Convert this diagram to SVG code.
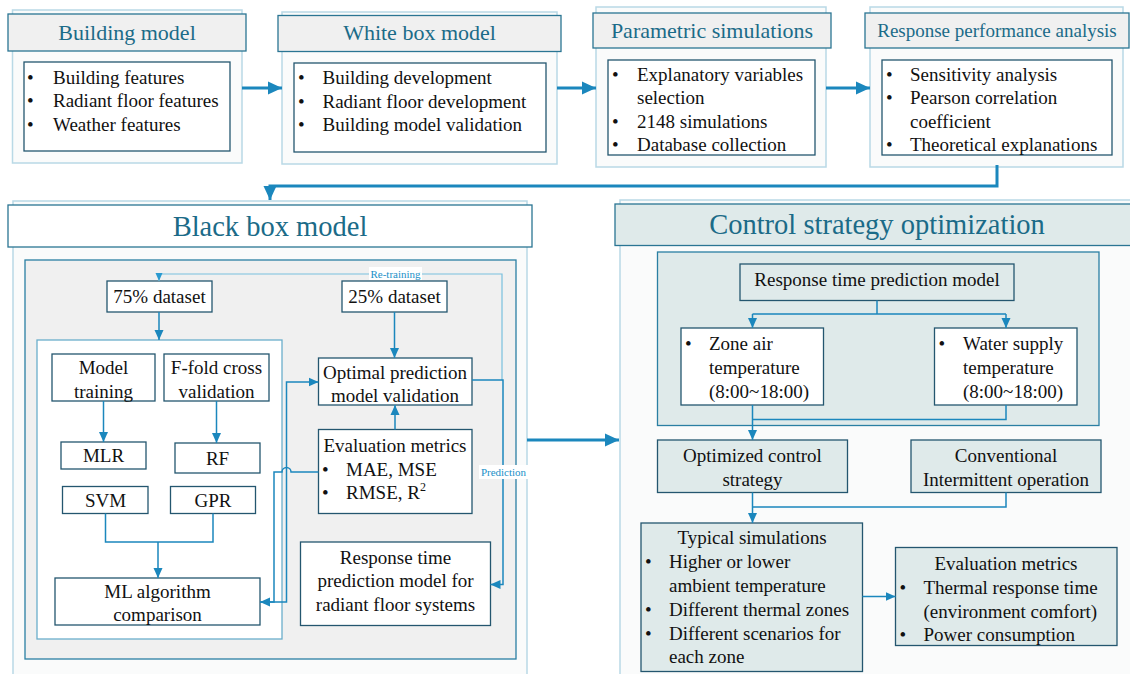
<svg xmlns="http://www.w3.org/2000/svg" width="1130" height="674" viewBox="0 0 1130 674">
<style>
text{font-family:"Liberation Serif","Times New Roman",serif;fill:#111}
.t{font-size:19px}
.c{text-anchor:middle}
.h{font-size:22px;fill:#1b6b88;text-anchor:middle}
.hb{font-size:28.5px;fill:#1b6b88;text-anchor:middle}
.lab{font-size:11px;fill:#1a90c8;text-anchor:middle}
.frame{fill:#fafbfb;stroke:#b9d9e6;stroke-width:1.5}
.hdr{fill:#f0f0f0;stroke:#2a7593;stroke-width:1.3}
.box{fill:#fff;stroke:#24566f;stroke-width:1.3}
.tbox{fill:#dfeaea;stroke:#24566f;stroke-width:1.3}
.ln{fill:none;stroke:#1b87bd;stroke-width:1.5}
.lt{fill:none;stroke:#79c0de;stroke-width:1.2}
.thick{fill:none;stroke:#1b87bd;stroke-width:3}
</style>
<defs>
<marker id="a" markerWidth="10" markerHeight="10" refX="10" refY="5" orient="auto" markerUnits="userSpaceOnUse"><path d="M0,0.5 L10,5 L0,9.5 z" fill="#1b87bd"/></marker>
<marker id="al" markerWidth="8" markerHeight="8" refX="8" refY="4" orient="auto" markerUnits="userSpaceOnUse"><path d="M0,0.5 L8,4 L0,7.5 z" fill="#2a9ad0"/></marker>
<marker id="at" markerWidth="14" markerHeight="14" refX="14" refY="7" orient="auto" markerUnits="userSpaceOnUse"><path d="M0,0.5 L14,7 L0,13.5 z" fill="#1b87bd"/></marker>
</defs>

<g id="building-model">
<rect class="frame" x="12.5" y="10" width="229.5" height="153"/>
<rect class="hdr" x="8" y="14" width="238" height="37"/>
<text class="h" x="127" y="39.5">Building model</text>
<rect class="box" x="24" y="62" width="206" height="89"/>
<text class="t" x="27" y="83.5">•</text><text class="t" x="53" y="83.5">Building features</text>
<text class="t" x="27" y="107">•</text><text class="t" x="53" y="107">Radiant floor features</text>
<text class="t" x="27" y="130.5">•</text><text class="t" x="53" y="130.5">Weather features</text>
</g>

<g id="white-box-model">
<rect class="frame" x="282" y="12" width="275" height="152"/>
<rect class="hdr" x="278" y="15.5" width="283" height="36"/>
<text class="h" x="419.5" y="40">White box model</text>
<rect class="box" x="294" y="63" width="252" height="89"/>
<text class="t" x="298" y="84">•</text><text class="t" x="322.5" y="84">Building development</text>
<text class="t" x="298" y="107.5">•</text><text class="t" x="322.5" y="107.5">Radiant floor development</text>
<text class="t" x="298" y="131">•</text><text class="t" x="322.5" y="131">Building model validation</text>
</g>

<g id="parametric-simulations">
<rect class="frame" x="596" y="7" width="230" height="160"/>
<rect class="hdr" x="593" y="13" width="238" height="35"/>
<text class="h" x="712" y="37.5">Parametric simulations</text>
<rect class="box" x="608" y="60" width="207" height="95"/>
<text class="t" x="612" y="80.5">•</text><text class="t" x="637" y="80.5">Explanatory variables</text>
<text class="t" x="637" y="104">selection</text>
<text class="t" x="612" y="127.5">•</text><text class="t" x="637" y="127.5">2148 simulations</text>
<text class="t" x="612" y="151">•</text><text class="t" x="637" y="151">Database collection</text>
</g>

<g id="response-performance-analysis">
<rect class="frame" x="870" y="7" width="253" height="160"/>
<rect class="hdr" x="865" y="13" width="264" height="35"/>
<text class="h" x="997" y="36.5" style="font-size:19px">Response performance analysis</text>
<rect class="box" x="882" y="60" width="230" height="95"/>
<text class="t" x="886" y="80.5">•</text><text class="t" x="910" y="80.5">Sensitivity analysis</text>
<text class="t" x="886" y="104">•</text><text class="t" x="910" y="104">Pearson correlation</text>
<text class="t" x="910" y="127.5">coefficient</text>
<text class="t" x="886" y="151">•</text><text class="t" x="910" y="151">Theoretical explanations</text>
</g>

<g id="black-box-model">
<rect class="frame" x="13" y="201" width="514" height="480"/>
<rect x="8" y="205" width="524" height="42" fill="#fff" stroke="#2a7593" stroke-width="1.3"/>
<text class="hb" x="270" y="236">Black box model</text>
<rect x="25" y="260" width="491" height="399" fill="#f0f0f0" stroke="#2a7fa3" stroke-width="1.3"/>
</g>

<g id="dataset-75">
<rect class="box" x="107" y="281" width="105" height="31"/>
<text class="t c" x="159.5" y="303">75% dataset</text>
</g>
<g id="dataset-25">
<rect class="box" x="342" y="281" width="105" height="31"/>
<text class="t c" x="394.5" y="303">25% dataset</text>
</g>
<g id="training-container">
<rect x="37" y="340" width="245" height="299" fill="#fff" stroke="#6aaecb" stroke-width="1.3"/>
</g>
<g id="model-training">
<rect class="box" x="52" y="354" width="103" height="47"/>
<text class="t c" x="103.5" y="374">Model</text>
<text class="t c" x="103.5" y="398">training</text>
</g>
<g id="f-fold">
<rect class="box" x="164" y="354" width="105" height="47"/>
<text class="t c" x="216.5" y="374">F-fold cross</text>
<text class="t c" x="216.5" y="398">validation</text>
</g>
<g id="mlr">
<rect class="box" x="61" y="442" width="85" height="27"/>
<text class="t c" x="103.5" y="462">MLR</text>
</g>
<g id="rf">
<rect class="box" x="175" y="443" width="85" height="30"/>
<text class="t c" x="217.5" y="464.5">RF</text>
</g>
<g id="svm">
<rect class="box" x="62.5" y="486.5" width="85.5" height="27"/>
<text class="t c" x="105.5" y="506.5">SVM</text>
</g>
<g id="gpr">
<rect class="box" x="170.5" y="486.5" width="85" height="27"/>
<text class="t c" x="213" y="506.5">GPR</text>
</g>
<g id="ml-comparison">
<rect class="box" x="55" y="578" width="205" height="47"/>
<text class="t c" x="157.5" y="597.5">ML algorithm</text>
<text class="t c" x="157.5" y="621">comparison</text>
</g>
<g id="optimal-validation">
<rect class="box" x="318.5" y="358" width="153.5" height="47"/>
<text class="t c" x="395" y="379">Optimal prediction</text>
<text class="t c" x="395" y="402">model validation</text>
</g>
<g id="evaluation-metrics-bb">
<rect class="box" x="318.5" y="429.5" width="153.5" height="84"/>
<text class="t c" x="395" y="451.5">Evaluation metrics</text>
<text class="t" x="322" y="475.5">•</text><text class="t" x="346" y="475.5">MAE, MSE</text>
<text class="t" x="322" y="499">•</text><text class="t" x="346" y="499">RMSE, R<tspan font-size="12" dy="-8">2</tspan></text>
</g>
<g id="response-time-model">
<rect class="box" x="300.5" y="542" width="190" height="83.5"/>
<text class="t c" x="395.5" y="563.5">Response time</text>
<text class="t c" x="395.5" y="587">prediction model for</text>
<text class="t c" x="395.5" y="610.5">radiant floor systems</text>
</g>

<g id="control-strategy">
<rect class="frame" x="620" y="200" width="515" height="480"/>
<rect x="615" y="204" width="520" height="41.5" fill="#dfeaea" stroke="#2a7593" stroke-width="1.3"/>
<text class="hb" x="877" y="234">Control strategy optimization</text>
<rect x="657.5" y="252" width="441.5" height="173.5" fill="#dfeaea" stroke="#2a7fa3" stroke-width="1.3"/>
</g>
<g id="rt-prediction-model">
<rect class="tbox" x="740" y="264" width="274" height="36.5"/>
<text class="t c" x="877" y="286">Response time prediction model</text>
</g>
<g id="zone-air">
<rect class="box" x="681" y="328" width="142.5" height="77"/>
<text class="t" x="685" y="350">•</text><text class="t" x="709" y="350">Zone air</text>
<text class="t" x="709" y="374">temperature</text>
<text class="t" x="709" y="398">(8:00~18:00)</text>
</g>
<g id="water-supply">
<rect class="box" x="934.5" y="328" width="142.5" height="77"/>
<text class="t" x="938.5" y="350">•</text><text class="t" x="963" y="350">Water supply</text>
<text class="t" x="963" y="374">temperature</text>
<text class="t" x="963" y="398">(8:00~18:00)</text>
</g>
<g id="optimized-control">
<rect class="tbox" x="657.5" y="440" width="190" height="52.5"/>
<text class="t c" x="752.5" y="461.5">Optimized control</text>
<text class="t c" x="752.5" y="485.5">strategy</text>
</g>
<g id="conventional">
<rect class="tbox" x="911" y="440" width="190" height="52.5"/>
<text class="t c" x="1006" y="461.5">Conventional</text>
<text class="t c" x="1006" y="485.5">Intermittent operation</text>
</g>
<g id="typical-simulations">
<rect class="tbox" x="641" y="523" width="221.5" height="148.5"/>
<text class="t c" x="752" y="544">Typical simulations</text>
<text class="t" x="645" y="567.5">•</text><text class="t" x="669" y="567.5">Higher or lower</text>
<text class="t" x="669" y="591.5">ambient temperature</text>
<text class="t" x="645" y="615.5">•</text><text class="t" x="669" y="615.5">Different thermal zones</text>
<text class="t" x="645" y="639.5">•</text><text class="t" x="669" y="639.5">Different scenarios for</text>
<text class="t" x="669" y="663">each zone</text>
</g>
<g id="evaluation-metrics-cs">
<rect class="tbox" x="895.5" y="547.5" width="221.5" height="98"/>
<text class="t c" x="1006" y="569.5">Evaluation metrics</text>
<text class="t" x="899.5" y="593.5">•</text><text class="t" x="923.5" y="593.5">Thermal response time</text>
<text class="t" x="923.5" y="617.5">(environment comfort)</text>
<text class="t" x="899.5" y="641">•</text><text class="t" x="923.5" y="641">Power consumption</text>
</g>

<g id="connectors">
<path class="thick" d="M242,88 H282" marker-end="url(#at)"/>
<path class="thick" d="M557,88 H596" marker-end="url(#at)"/>
<path class="thick" d="M826,88 H870" marker-end="url(#at)"/>
<path class="thick" d="M997,165 V186 H270 V200" marker-end="url(#at)"/>
<path class="thick" d="M527,440 H619" marker-end="url(#at)"/>
<path class="lt" d="M502,380 V274 H159 V281" marker-end="url(#al)"/>
<rect x="369" y="267" width="53" height="13" fill="#fff"/>
<text class="lab" x="395.5" y="277.5">Re-training</text>
<path class="ln" d="M159,312 V340" marker-end="url(#a)"/>
<path class="ln" d="M394.5,312 V358" marker-end="url(#a)"/>
<path class="ln" d="M103.5,401 V442" marker-end="url(#a)"/>
<path class="ln" d="M216.5,401 V443" marker-end="url(#a)"/>
<path class="ln" d="M105.5,513.5 V542 H213 V513.5 M158,542 V578" marker-end="url(#a)"/>
<path class="ln" d="M395,429.5 V405" marker-end="url(#a)"/>
<path class="ln" d="M260,602 H286.5 V382 H318.5" marker-end="url(#a)"/>
<path class="ln" d="M318.5,472 H291 A4.5,4.5 0 0 0 282,472 H274 V602 H260" marker-end="url(#a)"/>
<path class="ln" d="M472,380 H503 V584.5 H490.5" marker-end="url(#a)"/>
<rect x="479" y="465" width="49" height="14" fill="#fff"/>
<text class="lab" x="503.5" y="476">Prediction</text>
<path class="ln" d="M877,300.5 V314 M752.5,314 H1006 M752.5,314 V328" marker-end="url(#a)"/>
<path class="ln" d="M1006,314 V328" marker-end="url(#a)"/>
<path class="ln" d="M1006,405 V419.5 H752.5 M752.5,405 V440" marker-end="url(#a)"/>
<path class="ln" d="M1006,492.5 V507 H752.5 M752.5,492.5 V523" marker-end="url(#a)"/>
<path class="ln" d="M862.5,596.5 H895.5" marker-end="url(#a)"/>
</g>
</svg>
